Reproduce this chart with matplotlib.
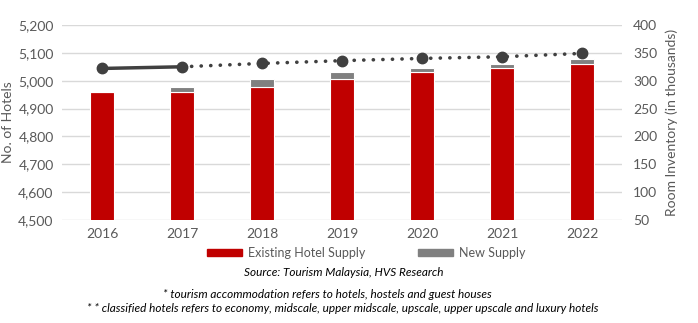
import matplotlib
matplotlib.use('Agg')
import matplotlib.pyplot as plt
from matplotlib.patches import Patch

# Dados
years = ['2016', '2017', '2018', '2019', '2020', '2021', '2022']
existing_supply = [4960, 4960, 4977, 5006, 5030, 5045, 5061]
new_supply = [0, 17, 29, 24, 14, 15, 17]
room_inventory = [322, 325, 331, 336, 340, 343, 349]

left_ticks = [4500, 4600, 4700, 4800, 4900, 5000, 5100, 5200]
right_ticks = [50, 100, 150, 200, 250, 300, 350, 400]

RED = '#C00000'
GREY = '#808080'
LINE = '#404040'
TXT = '#595959'

plt.rcParams['font.family'] = ['Lato', 'DejaVu Sans']

fig = plt.figure(figsize=(6.98, 3.23), dpi=100)
ax = fig.add_axes([62 / 698, 1 - 220 / 323, 560 / 698, 195 / 323])

x = list(range(len(years)))
ax.bar(x, existing_supply, width=0.3, color=RED, edgecolor='white', linewidth=0.8,
       bottom=0, zorder=3)
ax.bar(x, new_supply, width=0.3, color=GREY, edgecolor='white', linewidth=0.8,
       bottom=existing_supply, zorder=3)
ax.set_ylim(4500, 5200)
ax.set_xlim(-0.5, len(years) - 0.5)
ax.set_yticks(left_ticks)
ax.set_yticklabels(['{:,}'.format(v) for v in left_ticks])
ax.set_xticks(x)
ax.set_xticklabels(years)
ax.grid(axis='y', color='#d9d9d9', linewidth=1, zorder=0)
ax.set_axisbelow(True)
for s in ax.spines.values():
    s.set_visible(False)
ax.tick_params(axis='both', length=0, labelsize=10, colors=TXT, pad=6)
ax.set_ylabel('No. of Hotels', fontsize=10, color=TXT)
ax.yaxis.set_label_coords(-48 / 560, 0.5)

ax2 = ax.twinx()
ax2.plot(x[:2], room_inventory[:2], color=LINE, linewidth=2.5, zorder=4)
ax2.plot(x[1:], room_inventory[1:], color=LINE, linewidth=2.6, linestyle=(0, (0.05, 2.6)),
         dash_capstyle='round', zorder=4)
ax2.plot(x, room_inventory, linestyle='none', marker='o', markersize=7.5, color=LINE, zorder=5)
ax2.set_ylim(50, 400)
ax2.set_yticks(right_ticks)
for s in ax2.spines.values():
    s.set_visible(False)
ax2.tick_params(axis='both', length=0, labelsize=10, colors=TXT, pad=8)
ax2.set_ylabel('Room Inventory (in thousands)', fontsize=10, color=TXT)
ax2.yaxis.set_label_coords(1 + 43 / 560, 0.5)

handles = [Patch(color=RED, label='Existing Hotel Supply'),
           Patch(color=GREY, label='New Supply')]
fig.legend(handles=handles, loc='center', bbox_to_anchor=(366 / 698, 1 - 253 / 323),
           ncol=2, frameon=False, fontsize=9, handlelength=2.8, handleheight=0.55,
           columnspacing=4.2, handletextpad=0.5, labelcolor=TXT)

fig.text(344 / 698, 1 - 272 / 323, 'Source: Tourism Malaysia, HVS Research',
         ha='center', va='center', fontsize=8.5, style='italic', color='black')
fig.text(327 / 698, 1 - 295 / 323,
         '* tourism accommodation refers to hotels, hostels and guest houses',
         ha='center', va='center', fontsize=8.5, style='italic', color='black')
fig.text(343 / 698, 1 - 309 / 323,
         '* * classified hotels refers to economy, midscale, upper midscale, upscale, upper upscale and luxury hotels',
         ha='center', va='center', fontsize=8.5, style='italic', color='black')

fig.savefig('out.png', dpi=100)
